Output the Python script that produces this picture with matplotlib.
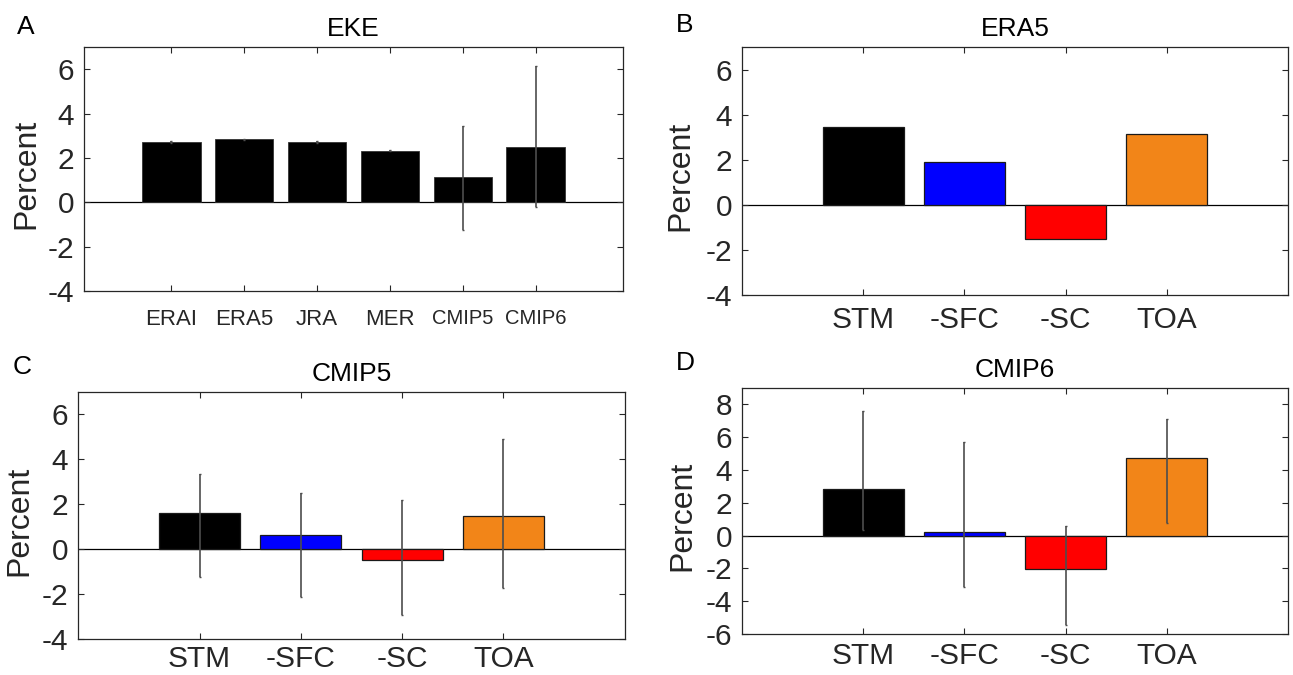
import numpy as np
import matplotlib
matplotlib.use("Agg")
import matplotlib.pyplot as plt

plt.rcParams['font.family'] = ['Liberation Sans', 'DejaVu Sans']
plt.rcParams['axes.unicode_minus'] = False

# panel A: EKE change
eke_labels = ["ERAI", "ERA5", "JRA", "MER", "CMIP5", "CMIP6"]
eke_vals = [2.72, 2.84, 2.71, 2.33, 1.13, 2.51]
eke_lo = [2.69, 2.81, 2.68, 2.30, -1.25, -0.20]
eke_hi = [2.75, 2.87, 2.74, 2.36, 3.44, 6.15]

# panels B-D: energy budget terms
terms = ["STM", "-SFC", "-SC", "TOA"]
term_colors = ["#000000", "#0000ff", "#ff0000", "#f28518"]

era5_vals = [3.44, 1.88, -1.52, 3.13]

cmip5_vals = [1.62, 0.64, -0.49, 1.47]
cmip5_lo = [-1.25, -2.11, -2.93, -1.75]
cmip5_hi = [3.37, 2.51, 2.18, 4.90]

cmip6_vals = [2.87, 0.20, -2.02, 4.71]
cmip6_lo = [0.36, -3.15, -5.45, 0.79]
cmip6_hi = [7.60, 5.68, 0.57, 7.09]

fig = plt.figure(figsize=(12.93, 6.75), dpi=100)

W, H = 1293, 675
def add_ax(l, t, r, b):
    return fig.add_axes([l / W, 1 - b / H, (r - l) / W, (b - t) / H])

axA = add_ax(84, 47, 623, 291)
axB = add_ax(742, 47, 1288, 295)
axC = add_ax(78, 392, 625, 639)
axD = add_ax(742, 388, 1288, 634)

frame = "#262626"
err_color = "#4d4d4d"


def style(ax, ylim, yticks, ylab_x):
    ax.set_ylim(*ylim)
    ax.set_yticks(yticks)
    ax.tick_params(direction="in", length=4.3, width=0.8, color=frame,
                   top=True, right=True, labelcolor=frame)
    ax.tick_params(axis="y", labelsize=21.5, pad=7)
    for s in ax.spines.values():
        s.set_color(frame)
        s.set_linewidth(0.9)
    ax.axhline(0, color="black", lw=0.9, zorder=1)
    ax.set_ylabel("Percent", fontsize=23, color=frame, va="center")
    ax.yaxis.set_label_coords(ylab_x, 0.48)


def err(ax, x, vals, lo, hi):
    vals = np.array(vals)
    yerr = [vals - np.array(lo), np.array(hi) - vals]
    ax.errorbar(x, vals, yerr=yerr, fmt="none", ecolor=err_color,
                elinewidth=1.2, capsize=1, capthick=1, zorder=4)


# A
xa = np.arange(1, len(eke_labels) + 1)
axA.bar(xa, eke_vals, width=0.8, color="black", edgecolor="#333333",
        linewidth=0.6, zorder=2)
err(axA, xa, eke_vals, eke_lo, eke_hi)
axA.set_xlim(-0.2, 7.2)
axA.set_xticks(xa)
axA.set_xticklabels(eke_labels)
axA.tick_params(axis="x", pad=13)
style(axA, (-4, 7), [-4, -2, 0, 2, 4, 6], -0.106)
for i, lab in enumerate(axA.get_xticklabels()):
    lab.set_fontsize(16 if i < 4 else 14.5)
axA.set_title("EKE", fontsize=19, pad=8)

# B-D
xt = np.arange(1, len(terms) + 1)
panels = [
    (axB, "ERA5", era5_vals, None, None, (-4, 7), [-4, -2, 0, 2, 4, 6], -0.112, 8),
    (axC, "CMIP5", cmip5_vals, cmip5_lo, cmip5_hi, (-4, 7), [-4, -2, 0, 2, 4, 6], -0.107, 4),
    (axD, "CMIP6", cmip6_vals, cmip6_lo, cmip6_hi, (-6, 9), [-6, -4, -2, 0, 2, 4, 6, 8], -0.110, 6),
]
for ax, title, vals, lo, hi, ylim, yt, lx, xpad in panels:
    ax.bar(xt, vals, width=0.8, color=term_colors, edgecolor="#1a1a1a",
           linewidth=0.9, zorder=2)
    if lo is not None:
        err(ax, xt, vals, lo, hi)
    ax.set_xlim(-0.2, 5.2)
    ax.set_xticks(xt)
    ax.set_xticklabels(terms, fontsize=21.5)
    ax.tick_params(axis="x", pad=xpad)
    style(ax, ylim, yt, lx)
    ax.set_title(title, fontsize=19, pad=8)

fig.text(26 / W, 1 - 27 / H, "A", fontsize=19, ha="center", va="center")
fig.text(685 / W, 1 - 25 / H, "B", fontsize=19, ha="center", va="center")
fig.text(22 / W, 1 - 367 / H, "C", fontsize=19, ha="center", va="center")
fig.text(685 / W, 1 - 363 / H, "D", fontsize=19, ha="center", va="center")

fig.savefig("out.png", dpi=100)
